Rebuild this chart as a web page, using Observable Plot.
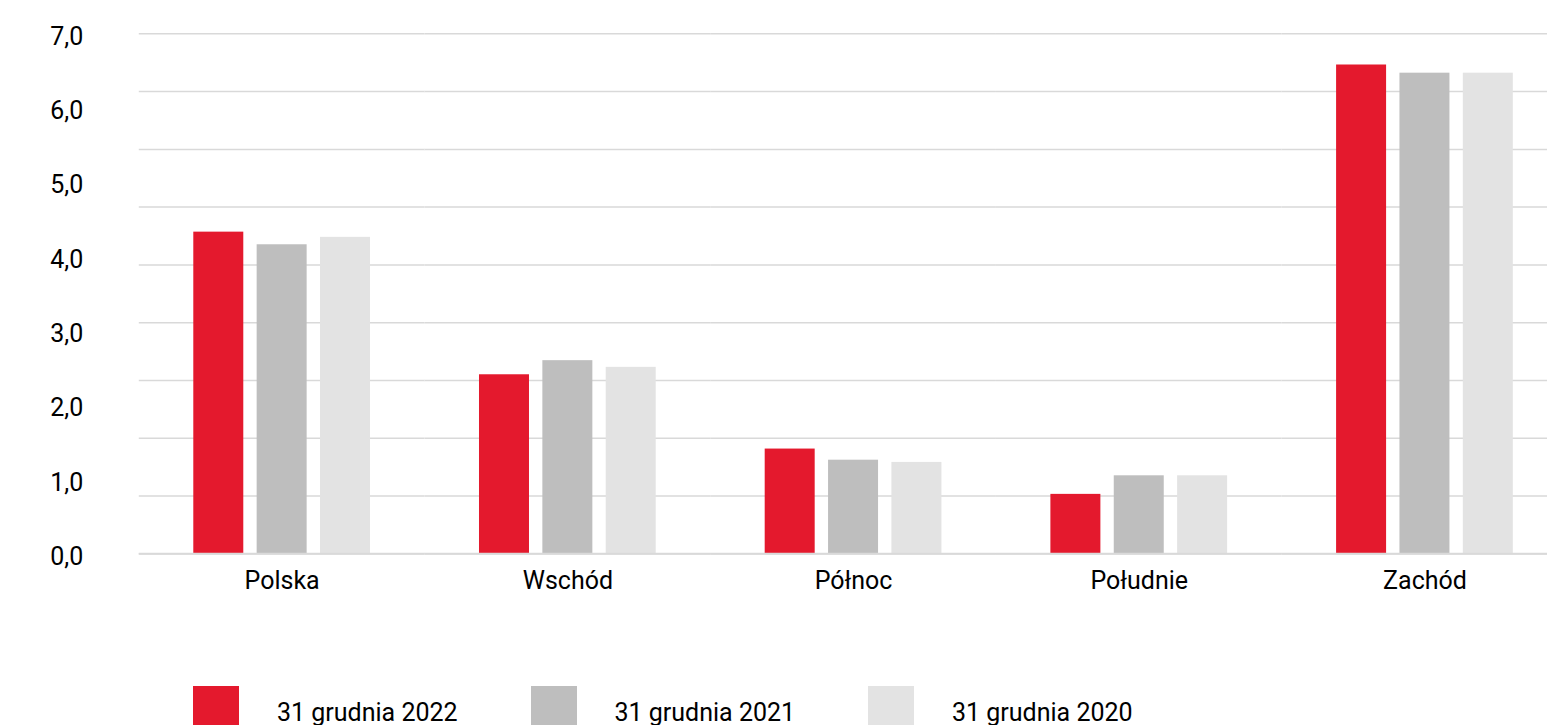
<!DOCTYPE html>
<html><head><meta charset="utf-8">
<script src="https://cdn.jsdelivr.net/npm/d3@7"></script>
<script src="https://cdn.jsdelivr.net/npm/@observablehq/plot@0.6"></script>
<style>
html,body{margin:0;padding:0;background:#fff;}
body{width:1547px;height:725px;overflow:hidden;position:relative;font-family:Roboto,sans-serif;}
#chart{position:absolute;left:0;top:0;}
#legend{position:absolute;top:686px;left:193px;display:flex;}
.item{position:relative;width:337.5px;height:46px;}
.sw{position:absolute;left:0;top:0;width:46px;height:46px;}
.lb{position:absolute;left:84px;top:14px;font-size:25px;line-height:25px;color:#000;white-space:nowrap;}
</style></head><body>
<div id="chart"></div>
<div id="legend"></div>
<script>
const categories = ["Polska","Wschód","Północ","Południe","Zachód"];
const seriesNames = ["31 grudnia 2022","31 grudnia 2021","31 grudnia 2020"];
const values2022 = [4.33, 2.41, 1.41, 0.80, 6.58];
const values2021 = [4.16, 2.60, 1.26, 1.05, 6.47];
const values2020 = [4.26, 2.51, 1.23, 1.05, 6.47];
const yTicks = [0, 1, 2, 3, 4, 5, 6, 7];
const gridLevels = [0, 0.778, 1.556, 2.333, 3.111, 3.889, 4.667, 5.444, 6.222, 7];
const colors = ["#E4192D", "#BEBEBE", "#E3E3E3"];

const seriesValues = [values2022, values2021, values2020];
const data = categories.flatMap((c, i) => seriesNames.map((s, j) => ({category: c, series: s, value: seriesValues[j][i]})));

const chart = Plot.plot({
  width: 1547, height: 660,
  marginLeft: 138.8, marginRight: -20.3, marginTop: 33.3, marginBottom: 106.7,
  style: {fontFamily: "Roboto", fontSize: "25px", color: "#000", background: "#fff"},
  fx: {domain: categories, padding: 0, round: false, label: null},
  x: {domain: seriesNames, paddingInner: 0.211, paddingOuter: 0.86, round: false, axis: null},
  y: {domain: [0, 7], label: null},
  color: {domain: seriesNames, range: colors},
  marks: [
    Plot.ruleY(gridLevels, {stroke: "#D9D9D9", strokeWidth: 1.5}),
    Plot.barY(data, {fx: "category", x: "series", y: "value", fill: "series"}),
    Plot.ruleY([0], {stroke: "#D9D9D9", strokeWidth: 2}),
    Plot.axisY({ticks: yTicks, tickFormat: d => d.toFixed(1).replace(".", ","), tickSize: 0, tickPadding: 56, dy: 3, label: null, fontSize: 25}),
    Plot.axisFx({anchor: "bottom", tickSize: 0, tickPadding: 17, label: null, fontSize: 25})
  ]
});
document.getElementById("chart").appendChild(chart);

const legend = d3.select("#legend");
seriesNames.forEach((s, i) => {
  const it = legend.append("div").attr("class", "item");
  it.append("div").attr("class", "sw").style("background", colors[i]);
  it.append("span").attr("class", "lb").text(s);
});
</script>
</body></html>
